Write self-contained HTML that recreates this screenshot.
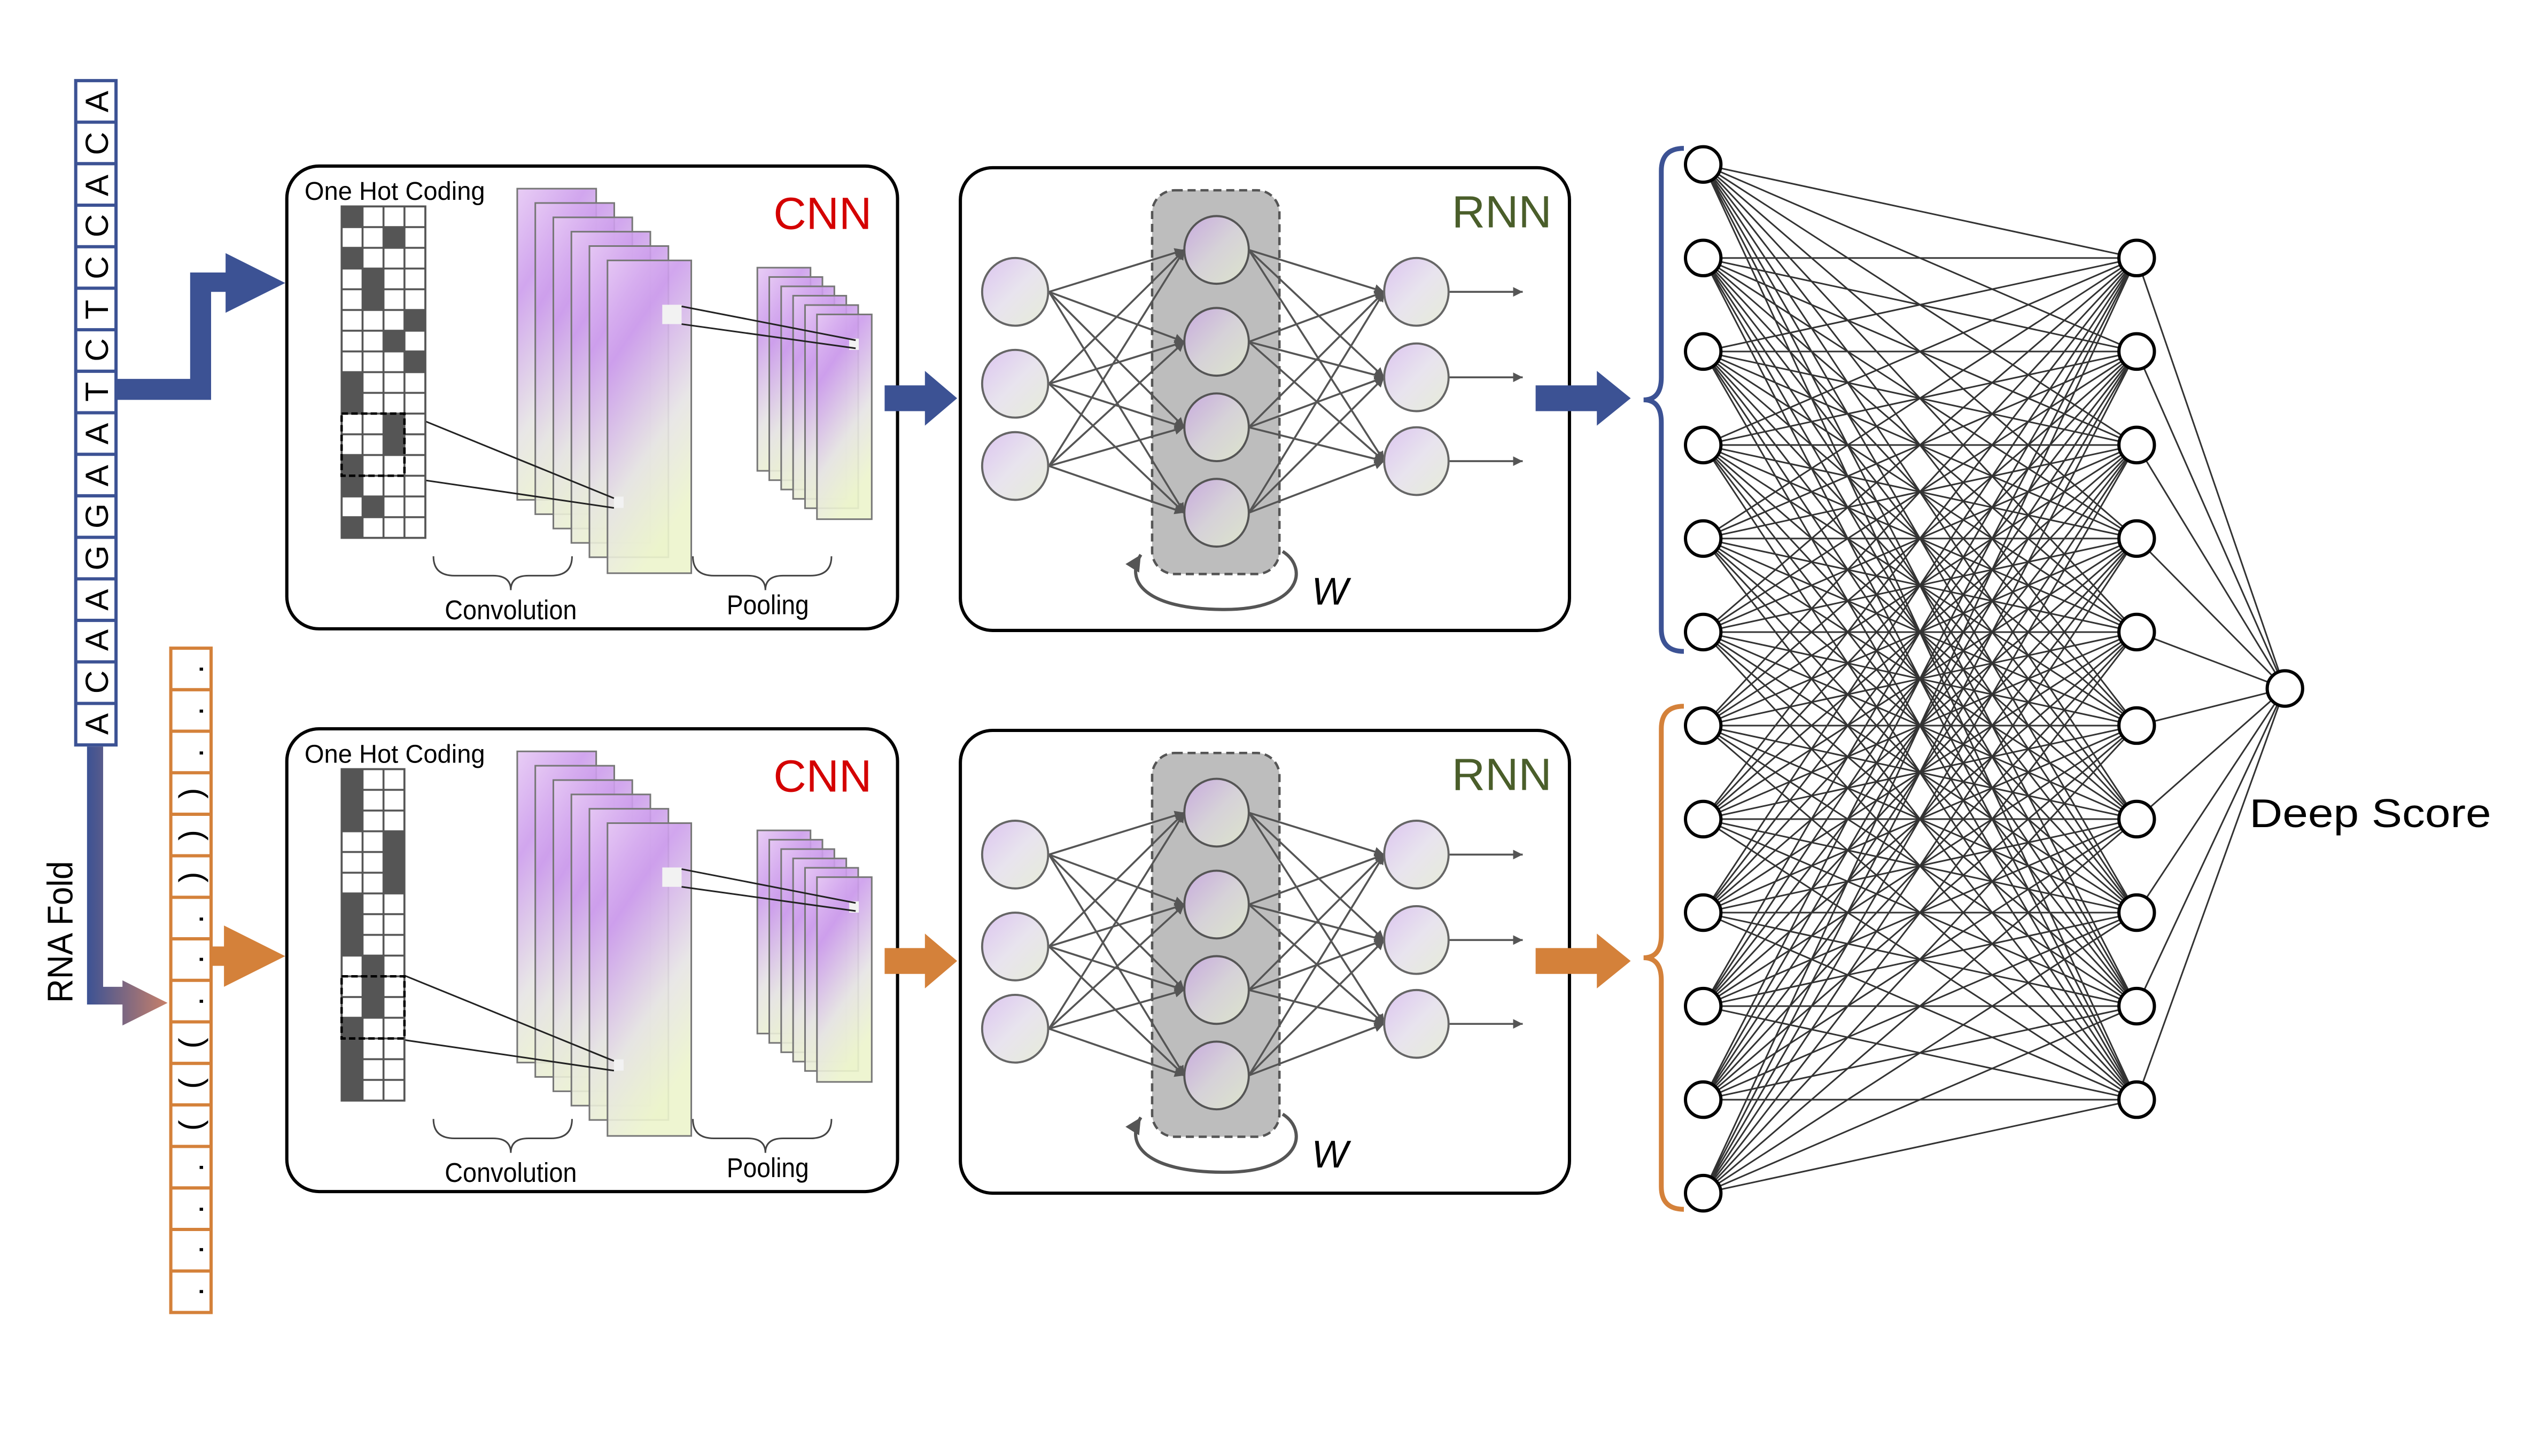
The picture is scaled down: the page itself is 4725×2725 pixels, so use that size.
<!DOCTYPE html>
<html><head><meta charset="utf-8"><style>html,body{margin:0;padding:0;background:#fff;overflow:hidden;width:4725px;height:2725px}svg{display:block}</style></head>
<body>
<svg xmlns="http://www.w3.org/2000/svg" xmlns:xlink="http://www.w3.org/1999/xlink" width="4725" height="2725" viewBox="0 0 1567 903" preserveAspectRatio="none">
<defs>
<linearGradient id="cg" x1="0" y1="0" x2="0.4" y2="1">
<stop offset="0" stop-color="#e6c8f4"/><stop offset="0.3" stop-color="#cc9cec"/><stop offset="0.7" stop-color="#e6e4e4"/><stop offset="1" stop-color="#ecf4cc"/></linearGradient>
<linearGradient id="ng" x1="0" y1="0" x2="1" y2="1">
<stop offset="0" stop-color="#dcc4f0"/><stop offset="0.5" stop-color="#e8e4ee"/><stop offset="1" stop-color="#e6ecd8"/></linearGradient>
<linearGradient id="hg" x1="0" y1="0" x2="1" y2="1">
<stop offset="0" stop-color="#c8aade"/><stop offset="0.5" stop-color="#d6d2d8"/><stop offset="1" stop-color="#dce4cc"/></linearGradient>
<linearGradient id="rf" x1="0" y1="0" x2="1" y2="0">
<stop offset="0" stop-color="#3c5294"/><stop offset="1" stop-color="#c8806a"/></linearGradient>
<marker id="ah" viewBox="0 0 10 10" refX="10" refY="5" markerWidth="5" markerHeight="5" orient="auto"><path d="M0 0L10 5L0 10z" fill="#555"/></marker>
<pattern id="gp1" patternUnits="userSpaceOnUse" x="212" y="128" width="13" height="12.85"><rect width="13" height="12.85" fill="none" stroke="#555" stroke-width="1.2"/></pattern>
<pattern id="gp2" patternUnits="userSpaceOnUse" x="212" y="477" width="13" height="12.85"><rect width="13" height="12.85" fill="none" stroke="#555" stroke-width="1.2"/></pattern>

<g id="cnn">
<rect x="178" y="103" width="379" height="287" rx="20" fill="#fff" stroke="#000" stroke-width="2"/>
<g fill="url(#cg)" stroke="#777" stroke-width="1" fill-opacity="0.9">
<rect x="321" y="117" width="49" height="193"/>
<rect x="332.2" y="125.9" width="49" height="193"/>
<rect x="343.4" y="134.8" width="49" height="193"/>
<rect x="354.6" y="143.7" width="49" height="193"/>
<rect x="365.8" y="152.6" width="49" height="193"/>
<rect x="377" y="161.5" width="52" height="194"/>
<rect x="470" y="166" width="33" height="126"/>
<rect x="477.4" y="171.8" width="33" height="126"/>
<rect x="484.8" y="177.6" width="33" height="126"/>
<rect x="492.2" y="183.4" width="33" height="126"/>
<rect x="499.6" y="189.2" width="33" height="126"/>
<rect x="507" y="195" width="34" height="127"/>
</g>
<rect x="411" y="189" width="12" height="12" fill="#f2f2f2"/>
<rect x="527" y="210" width="6" height="7" fill="#f2f2f2"/>
<rect x="381" y="308" width="6" height="7" fill="#f2f2f2"/>
<g stroke="#222" stroke-width="1">
<line x1="423" y1="190" x2="531" y2="211"/>
<line x1="423" y1="201" x2="531" y2="216"/>
<line x1="251" y1="256" x2="381" y2="309"/>
<line x1="251" y1="296" x2="381" y2="315"/>
</g>
<path d="M269 345 Q269 357 282 357 L306 357 Q317 357 317 366 Q317 357 328 357 L342 357 Q355 357 355 345" fill="none" stroke="#444" stroke-width="1"/>
<path d="M430 345 Q430 357 443 357 L464 357 Q475 357 475 366 Q475 357 486 357 L503 357 Q516 357 516 345" fill="none" stroke="#444" stroke-width="1"/>
</g>

<g id="rnn">
<rect x="596" y="104" width="378" height="287" rx="20" fill="#fff" stroke="#000" stroke-width="2"/>
<rect x="715" y="118" width="79" height="238" rx="14" fill="#bdbdbd" stroke="#555" stroke-width="1.5" stroke-dasharray="5 3"/>
<g stroke="#555" stroke-width="1.2" marker-end="url(#ah)">
<line x1="651" y1="181" x2="735" y2="155"/><line x1="651" y1="181" x2="735" y2="212"/><line x1="651" y1="181" x2="735" y2="265"/><line x1="651" y1="181" x2="735" y2="318"/>
<line x1="651" y1="238" x2="735" y2="155"/><line x1="651" y1="238" x2="735" y2="212"/><line x1="651" y1="238" x2="735" y2="265"/><line x1="651" y1="238" x2="735" y2="318"/>
<line x1="651" y1="289" x2="735" y2="155"/><line x1="651" y1="289" x2="735" y2="212"/><line x1="651" y1="289" x2="735" y2="265"/><line x1="651" y1="289" x2="735" y2="318"/>
<line x1="775" y1="155" x2="859" y2="181"/><line x1="775" y1="155" x2="859" y2="234"/><line x1="775" y1="155" x2="859" y2="286"/>
<line x1="775" y1="212" x2="859" y2="181"/><line x1="775" y1="212" x2="859" y2="234"/><line x1="775" y1="212" x2="859" y2="286"/>
<line x1="775" y1="265" x2="859" y2="181"/><line x1="775" y1="265" x2="859" y2="234"/><line x1="775" y1="265" x2="859" y2="286"/>
<line x1="775" y1="318" x2="859" y2="181"/><line x1="775" y1="318" x2="859" y2="234"/><line x1="775" y1="318" x2="859" y2="286"/>
<line x1="899" y1="181" x2="945" y2="181"/><line x1="899" y1="234" x2="945" y2="234"/><line x1="899" y1="286" x2="945" y2="286"/>
</g>
<g fill="url(#ng)" stroke="#666" stroke-width="1.3">
<ellipse cx="630" cy="181" rx="20.5" ry="21"/><ellipse cx="630" cy="238" rx="20.5" ry="21"/><ellipse cx="630" cy="289" rx="20.5" ry="21"/>
<ellipse cx="879" cy="181" rx="20" ry="21"/><ellipse cx="879" cy="234" rx="20" ry="21"/><ellipse cx="879" cy="286" rx="20" ry="21"/>
</g>
<g fill="url(#hg)" stroke="#555" stroke-width="1.3">
<ellipse cx="755" cy="155" rx="20" ry="21"/><ellipse cx="755" cy="212" rx="20" ry="21"/><ellipse cx="755" cy="265" rx="20" ry="21"/><ellipse cx="755" cy="318" rx="20" ry="21"/>
</g>
<path d="M796 342 C812 352 808 378 760 378 C710 378 698 360 708 344" fill="none" stroke="#555" stroke-width="2" marker-end="url(#ah)"/>
</g>

<g id="fan" stroke="#333" stroke-width="3" fill="none">
<path vector-effect="non-scaling-stroke" d="M1057 102L1326 160M1057 102L1326 218M1057 102L1326 276M1057 102L1326 334M1057 102L1326 392M1057 102L1326 450M1057 102L1326 508M1057 102L1326 566M1057 102L1326 624M1057 102L1326 682"/>
</g>
</defs>

<rect x="47" y="50" width="25" height="412" fill="#fff" stroke="#3c5294" stroke-width="2"/>
<g stroke="#3c5294" stroke-width="2">
<line x1="47" y1="75.75" x2="72" y2="75.75"/><line x1="47" y1="101.5" x2="72" y2="101.5"/><line x1="47" y1="127.25" x2="72" y2="127.25"/><line x1="47" y1="153" x2="72" y2="153"/><line x1="47" y1="178.75" x2="72" y2="178.75"/><line x1="47" y1="204.5" x2="72" y2="204.5"/><line x1="47" y1="230.25" x2="72" y2="230.25"/><line x1="47" y1="256" x2="72" y2="256"/><line x1="47" y1="281.75" x2="72" y2="281.75"/><line x1="47" y1="307.5" x2="72" y2="307.5"/><line x1="47" y1="333.25" x2="72" y2="333.25"/><line x1="47" y1="359" x2="72" y2="359"/><line x1="47" y1="384.75" x2="72" y2="384.75"/><line x1="47" y1="410.5" x2="72" y2="410.5"/><line x1="47" y1="436.25" x2="72" y2="436.25"/>
</g>
<rect x="106" y="402" width="25" height="412" fill="#fff" stroke="#d4813a" stroke-width="2"/>
<g stroke="#d4813a" stroke-width="2">
<line x1="106" y1="427.75" x2="131" y2="427.75"/><line x1="106" y1="453.5" x2="131" y2="453.5"/><line x1="106" y1="479.25" x2="131" y2="479.25"/><line x1="106" y1="505" x2="131" y2="505"/><line x1="106" y1="530.75" x2="131" y2="530.75"/><line x1="106" y1="556.5" x2="131" y2="556.5"/><line x1="106" y1="582.25" x2="131" y2="582.25"/><line x1="106" y1="608" x2="131" y2="608"/><line x1="106" y1="633.75" x2="131" y2="633.75"/><line x1="106" y1="659.5" x2="131" y2="659.5"/><line x1="106" y1="685.25" x2="131" y2="685.25"/><line x1="106" y1="711" x2="131" y2="711"/><line x1="106" y1="736.75" x2="131" y2="736.75"/><line x1="106" y1="762.5" x2="131" y2="762.5"/><line x1="106" y1="788.25" x2="131" y2="788.25"/>
</g>

<polygon points="72,235 118,235 118,169 140,169 140,157 177,175.5 140,194 140,181 131,181 131,248 72,248" fill="#3c5294"/>
<polygon points="54,463 64,463 64,612 76,612 76,608 104,622 76,636 76,623 54,623" fill="url(#rf)"/>
<polygon points="131,587 139,587 139,574 177,593 139,612 139,599 131,599" fill="#d4813a"/>

<use xlink:href="#cnn" href="#cnn"/>
<use xlink:href="#cnn" href="#cnn" transform="translate(0,349)"/>

<rect x="212" y="128" width="52" height="205.6" fill="#fff"/>
<g fill="#555">
<rect x="212" y="128" width="13" height="12.85"/><rect x="238" y="140.85" width="13" height="12.85"/><rect x="212" y="153.7" width="13" height="12.85"/><rect x="225" y="166.55" width="13" height="25.7"/><rect x="251" y="192.25" width="13" height="12.85"/><rect x="238" y="205.1" width="13" height="12.85"/><rect x="251" y="217.95" width="13" height="12.85"/><rect x="212" y="230.8" width="13" height="25.7"/><rect x="238" y="256.5" width="13" height="25.7"/><rect x="212" y="282.2" width="13" height="25.7"/><rect x="225" y="307.9" width="13" height="12.85"/><rect x="212" y="320.75" width="13" height="12.85"/>
</g>
<rect x="212" y="128" width="52" height="205.6" fill="url(#gp1)" stroke="#555" stroke-width="1.2"/>
<rect x="212" y="256.5" width="39" height="38.55" fill="none" stroke="#000" stroke-width="1.5" stroke-dasharray="4 2"/>
<rect x="212" y="477" width="39" height="205.6" fill="#fff"/>
<g fill="#555">
<rect x="212" y="477" width="13" height="38.55"/><rect x="238" y="515.55" width="13" height="38.55"/><rect x="212" y="554.1" width="13" height="38.55"/><rect x="225" y="592.65" width="13" height="38.55"/><rect x="212" y="631.2" width="13" height="51.4"/>
</g>
<rect x="212" y="477" width="39" height="205.6" fill="url(#gp2)" stroke="#555" stroke-width="1.2"/>
<rect x="212" y="605.5" width="39" height="38.55" fill="none" stroke="#000" stroke-width="1.5" stroke-dasharray="4 2"/>

<use xlink:href="#rnn" href="#rnn"/>
<use xlink:href="#rnn" href="#rnn" transform="translate(0,349)"/>

<polygon points="549,239 574,239 574,230 594,247 574,264 574,255 549,255" fill="#3c5294"/>
<polygon points="953,239 991,239 991,230 1012,247 991,264 991,255 953,255" fill="#3c5294"/>
<polygon points="549,588 574,588 574,579 594,596 574,613 574,604 549,604" fill="#d4813a"/>
<polygon points="953,588 991,588 991,579 1012,596 991,613 991,604 953,604" fill="#d4813a"/>

<use xlink:href="#fan" href="#fan"/>
<use xlink:href="#fan" href="#fan" transform="matrix(1,-0.215613,0,1,0,285.903)"/>
<use xlink:href="#fan" href="#fan" transform="matrix(1,-0.431227,0,1,0,571.807)"/>
<use xlink:href="#fan" href="#fan" transform="matrix(1,-0.646840,0,1,0,857.710)"/>
<use xlink:href="#fan" href="#fan" transform="matrix(1,-0.862454,0,1,0,1143.613)"/>
<use xlink:href="#fan" href="#fan" transform="matrix(1,-1.078067,0,1,0,1429.517)"/>
<use xlink:href="#fan" href="#fan" transform="matrix(1,-1.293680,0,1,0,1715.420)"/>
<use xlink:href="#fan" href="#fan" transform="matrix(1,-1.509294,0,1,0,2001.323)"/>
<use xlink:href="#fan" href="#fan" transform="matrix(1,-1.724907,0,1,0,2287.227)"/>
<use xlink:href="#fan" href="#fan" transform="matrix(1,-1.940520,0,1,0,2573.130)"/>
<use xlink:href="#fan" href="#fan" transform="matrix(1,-2.156134,0,1,0,2859.033)"/>
<use xlink:href="#fan" href="#fan" transform="matrix(1,-2.371747,0,1,0,3144.937)"/>
<path d="M1326 160L1418 427M1326 218L1418 427M1326 276L1418 427M1326 334L1418 427M1326 392L1418 427M1326 450L1418 427M1326 508L1418 427M1326 566L1418 427M1326 624L1418 427M1326 682L1418 427" stroke="#333" stroke-width="1" fill="none"/>
<g fill="#fff" stroke="#000" stroke-width="2">
<circle cx="1057" cy="102" r="11"/><circle cx="1057" cy="160" r="11"/><circle cx="1057" cy="218" r="11"/><circle cx="1057" cy="276" r="11"/><circle cx="1057" cy="334" r="11"/><circle cx="1057" cy="392" r="11"/><circle cx="1057" cy="450" r="11"/><circle cx="1057" cy="508" r="11"/><circle cx="1057" cy="566" r="11"/><circle cx="1057" cy="624" r="11"/><circle cx="1057" cy="682" r="11"/><circle cx="1057" cy="740" r="11"/>
<circle cx="1326" cy="160" r="11"/><circle cx="1326" cy="218" r="11"/><circle cx="1326" cy="276" r="11"/><circle cx="1326" cy="334" r="11"/><circle cx="1326" cy="392" r="11"/><circle cx="1326" cy="450" r="11"/><circle cx="1326" cy="508" r="11"/><circle cx="1326" cy="566" r="11"/><circle cx="1326" cy="624" r="11"/><circle cx="1326" cy="682" r="11"/>
<circle cx="1418" cy="427" r="11"/>
</g>
<path d="M1045 92 Q1031 92 1031 106 L1031 234 Q1031 248 1020 248 Q1031 248 1031 262 L1031 390 Q1031 404 1045 404" fill="none" stroke="#3c5294" stroke-width="3"/>
<path d="M1045 438 Q1031 438 1031 452 L1031 580 Q1031 594 1020 594 Q1031 594 1031 608 L1031 736 Q1031 750 1045 750" fill="none" stroke="#d4813a" stroke-width="3"/>

<g font-family="Liberation Sans, sans-serif">
<text x="189" y="124" font-size="16" textLength="112" lengthAdjust="spacingAndGlyphs">One Hot Coding</text>
<text x="189" y="473" font-size="16" textLength="112" lengthAdjust="spacingAndGlyphs">One Hot Coding</text>
<text x="276" y="384" font-size="17" textLength="82" lengthAdjust="spacingAndGlyphs">Convolution</text>
<text x="276" y="733" font-size="17" textLength="82" lengthAdjust="spacingAndGlyphs">Convolution</text>
<text x="451" y="381" font-size="17" textLength="51" lengthAdjust="spacingAndGlyphs">Pooling</text>
<text x="451" y="730" font-size="17" textLength="51" lengthAdjust="spacingAndGlyphs">Pooling</text>
<text x="480" y="142" font-size="28" fill="#d40000" textLength="61" lengthAdjust="spacingAndGlyphs">CNN</text>
<text x="480" y="491" font-size="28" fill="#d40000" textLength="61" lengthAdjust="spacingAndGlyphs">CNN</text>
<text x="901" y="141" font-size="28" fill="#4a5e2a" textLength="62" lengthAdjust="spacingAndGlyphs">RNN</text>
<text x="901" y="490" font-size="28" fill="#4a5e2a" textLength="62" lengthAdjust="spacingAndGlyphs">RNN</text>
<text x="814" y="375" font-size="24" font-style="italic">W</text>
<text x="814" y="724" font-size="24" font-style="italic">W</text>
<text x="1396" y="513" font-size="25" textLength="150" lengthAdjust="spacingAndGlyphs">Deep Score</text>
<text transform="translate(45,578) rotate(-90)" font-size="22" text-anchor="middle" textLength="88" lengthAdjust="spacingAndGlyphs">RNA Fold</text>
<g font-size="20" text-anchor="middle">
<text transform="translate(67,63) rotate(-90)">A</text>
<text transform="translate(67,89) rotate(-90)">C</text>
<text transform="translate(67,115) rotate(-90)">A</text>
<text transform="translate(67,140) rotate(-90)">C</text>
<text transform="translate(67,166) rotate(-90)">C</text>
<text transform="translate(67,192) rotate(-90)">T</text>
<text transform="translate(67,217) rotate(-90)">C</text>
<text transform="translate(67,243) rotate(-90)">T</text>
<text transform="translate(67,269) rotate(-90)">A</text>
<text transform="translate(67,295) rotate(-90)">A</text>
<text transform="translate(67,320) rotate(-90)">G</text>
<text transform="translate(67,346) rotate(-90)">G</text>
<text transform="translate(67,372) rotate(-90)">A</text>
<text transform="translate(67,397) rotate(-90)">A</text>
<text transform="translate(67,423) rotate(-90)">C</text>
<text transform="translate(67,449) rotate(-90)">A</text>
</g>
<g font-size="20" text-anchor="middle">
<text transform="translate(126,415) rotate(-90)">.</text>
<text transform="translate(126,441) rotate(-90)">.</text>
<text transform="translate(126,467) rotate(-90)">.</text>
<text transform="translate(125,492) rotate(-90)">)</text>
<text transform="translate(125,518) rotate(-90)">)</text>
<text transform="translate(125,544) rotate(-90)">)</text>
<text transform="translate(126,570) rotate(-90)">.</text>
<text transform="translate(126,595) rotate(-90)">.</text>
<text transform="translate(126,621) rotate(-90)">.</text>
<text transform="translate(125,647) rotate(-90)">(</text>
<text transform="translate(125,672) rotate(-90)">(</text>
<text transform="translate(125,698) rotate(-90)">(</text>
<text transform="translate(126,724) rotate(-90)">.</text>
<text transform="translate(126,750) rotate(-90)">.</text>
<text transform="translate(126,775) rotate(-90)">.</text>
<text transform="translate(126,801) rotate(-90)">.</text>
</g>
</g>
</svg>
</body></html>
